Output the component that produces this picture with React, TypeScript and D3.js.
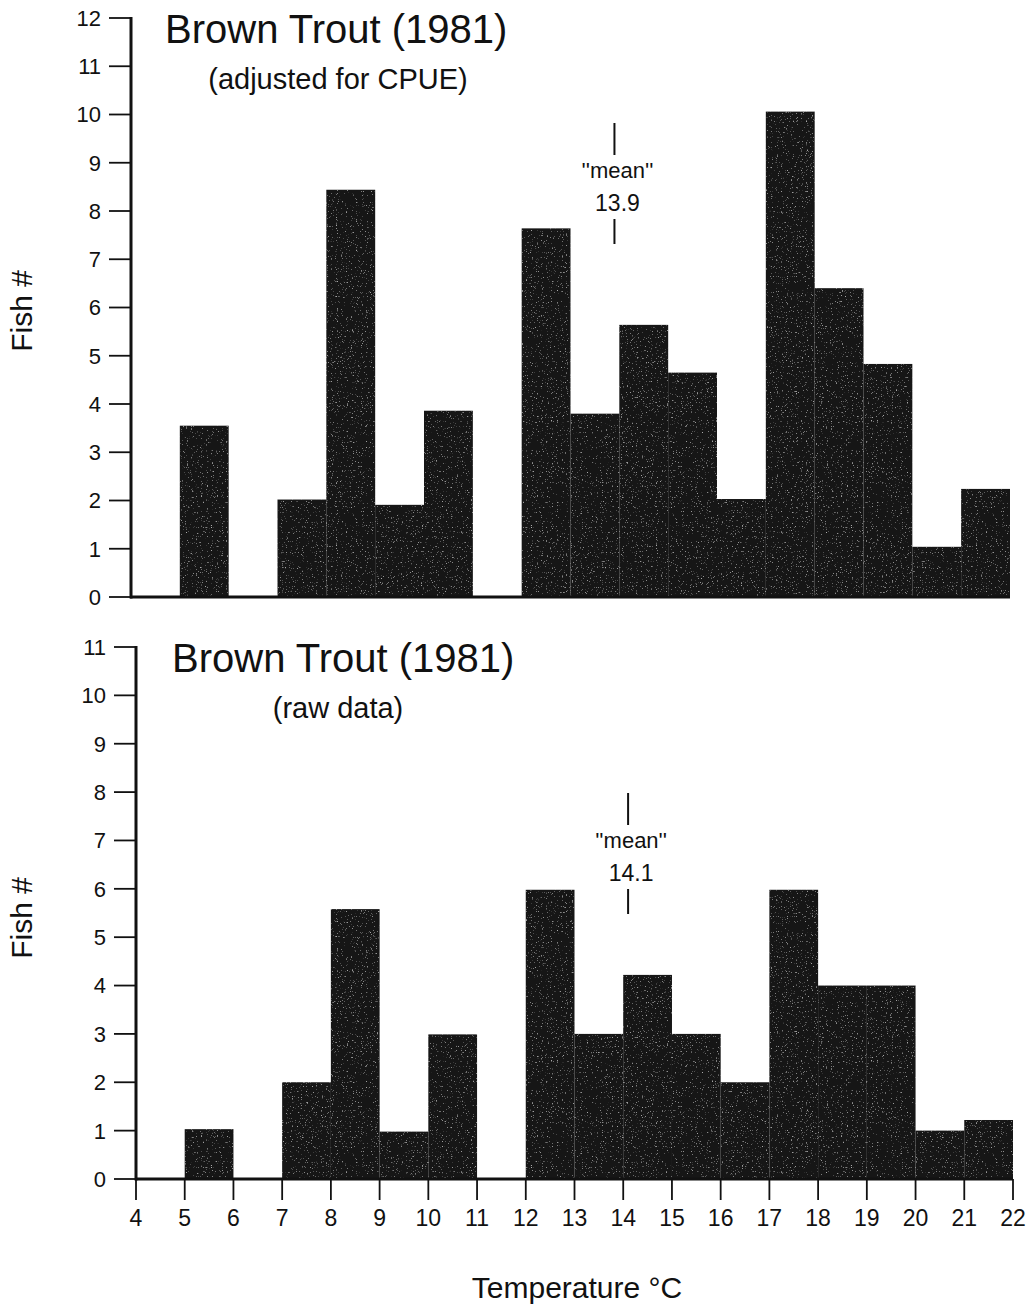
import React from "react";
import * as d3 from "d3";

// Temperature bins (lower edge, °C), each 1 °C wide
const binStarts = [4, 5, 6, 7, 8, 9, 10, 11, 12, 13, 14, 15, 16, 17, 18, 19, 20, 21];
// Fish # adjusted for CPUE
const cpueCounts = [0, 3.55, 0, 2.02, 8.44, 1.91, 3.86, 0, 7.64, 3.8, 5.64, 4.65, 2.03, 10.06, 6.4, 4.83, 1.04, 2.24];
// Fish # raw data
const rawCounts = [0, 1.03, 0, 2.0, 5.58, 0.98, 2.99, 0, 5.98, 3.0, 4.22, 3.0, 2.0, 5.98, 4.0, 4.0, 1.0, 1.22];
const xTickValues = [4, 5, 6, 7, 8, 9, 10, 11, 12, 13, 14, 15, 16, 17, 18, 19, 20, 21, 22];
const yTicksTop = [0, 1, 2, 3, 4, 5, 6, 7, 8, 9, 10, 11, 12];
const yTicksBottom = [0, 1, 2, 3, 4, 5, 6, 7, 8, 9, 10, 11];
const meanTop = 13.9;
const meanBottom = 14.1;

const FONT = "'Liberation Sans', Arial, sans-serif";
const INK = "#111";
const BAR = "#121212";

type PanelProps = {
  counts: number[];
  yTicks: number[];
  xRange: [number, number];
  yRange: [number, number];
  yMax: number;
  title: string;
  subtitle: string;
  titleX: number;
  titleY: number;
  subX: number;
  subY: number;
  mean: number;
  meanTop: number;
  showX: boolean;
  labelY: number;
};

function Panel(p: PanelProps) {
  const x = d3.scaleLinear().domain([4, 22]).range(p.xRange);
  const y = d3.scaleLinear().domain([0, p.yMax]).range(p.yRange);
  const x0 = x(4);
  const y0 = y(0);
  const mx = x(p.mean);
  const mt = p.meanTop;
  return (
    <g>
      <g filter="url(#grain)">
        {binStarts.map((b, i) =>
          p.counts[i] > 0 ? (
            <rect
              key={b}
              x={x(b)}
              y={y(p.counts[i])}
              width={x(b + 1) - x(b)}
              height={y0 - y(p.counts[i])}
              fill={BAR}
            />
          ) : null
        )}
      </g>
      <line x1={x0 - 1} x2={x(22)} y1={y0} y2={y0} stroke={INK} strokeWidth={3} />
      <line x1={x0} x2={x0} y1={y(p.yMax) - 1} y2={y0 + 1.5} stroke={INK} strokeWidth={3} />
      {p.yTicks.map((t) => (
        <g key={t}>
          <line x1={x0 - 22} x2={x0} y1={y(t)} y2={y(t)} stroke={INK} strokeWidth={1.8} />
          <text
            x={x0 - 30}
            y={y(t)}
            dy="0.36em"
            textAnchor="end"
            fontSize={22}
            fontFamily={FONT}
            fill={INK}
          >
            {t}
          </text>
        </g>
      ))}
      {p.showX &&
        xTickValues.map((t) => (
          <g key={t}>
            <line x1={x(t)} x2={x(t)} y1={y0} y2={y0 + 21} stroke={INK} strokeWidth={1.8} />
            <text
              x={x(t)}
              y={y0 + 47}
              textAnchor="middle"
              fontSize={23}
              fontFamily={FONT}
              fill={INK}
            >
              {t}
            </text>
          </g>
        ))}
      <text x={p.titleX} y={p.titleY} fontSize={40} fontFamily={FONT} fill={INK}>
        {p.title}
      </text>
      <text x={p.subX} y={p.subY} textAnchor="middle" fontSize={29} fontFamily={FONT} fill={INK}>
        {p.subtitle}
      </text>
      <text
        transform={`translate(32, ${p.labelY}) rotate(-90)`}
        textAnchor="middle"
        fontSize={30}
        fontFamily={FONT}
        fill={INK}
      >
        Fish #
      </text>
      <line x1={mx} x2={mx} y1={mt} y2={mt + 32} stroke={INK} strokeWidth={2} />
      <text x={mx + 3} y={mt + 55} textAnchor="middle" fontSize={22} fontFamily={FONT} fill={INK}>
        {"''mean''"}
      </text>
      <text x={mx + 3} y={mt + 88} textAnchor="middle" fontSize={23} fontFamily={FONT} fill={INK}>
        {p.mean.toFixed(1)}
      </text>
      <line x1={mx} x2={mx} y1={mt + 96} y2={mt + 121} stroke={INK} strokeWidth={2} />
    </g>
  );
}

export default function App() {
  return (
    <svg
      width={1034}
      height={1309}
      style={{ position: "absolute", left: 0, top: 0, background: "#fff" }}
    >
      <defs>
        <filter id="grain" x="0" y="0" width="100%" height="100%">
          <feTurbulence type="fractalNoise" baseFrequency="0.8" numOctaves={2} seed={3} result="noise" />
          <feColorMatrix
            in="noise"
            type="matrix"
            values="0 0 0 0 0.4  0 0 0 0 0.4  0 0 0 0 0.4  0 0 0 5 -3.3"
            result="specks"
          />
          <feComposite in="specks" in2="SourceGraphic" operator="in" result="clipped" />
          <feMerge>
            <feMergeNode in="SourceGraphic" />
            <feMergeNode in="clipped" />
          </feMerge>
        </filter>
      </defs>
      <rect width={1034} height={1309} fill="#fff" />
      <Panel
        counts={cpueCounts}
        yTicks={yTicksTop}
        xRange={[131, 1010]}
        yRange={[597, 18]}
        yMax={12}
        title="Brown Trout (1981)"
        subtitle="(adjusted for CPUE)"
        titleX={165}
        titleY={43}
        subX={338}
        subY={89}
        mean={meanTop}
        meanTop={123}
        showX={false}
        labelY={311}
      />
      <Panel
        counts={rawCounts}
        yTicks={yTicksBottom}
        xRange={[136, 1013]}
        yRange={[1179, 647]}
        yMax={11}
        title="Brown Trout (1981)"
        subtitle="(raw data)"
        titleX={172}
        titleY={672}
        subX={338}
        subY={718}
        mean={meanBottom}
        meanTop={793}
        showX={true}
        labelY={918}
      />
      <text x={577} y={1298} textAnchor="middle" fontSize={30} fontFamily={FONT} fill={INK}>
        Temperature °C
      </text>
    </svg>
  );
}
